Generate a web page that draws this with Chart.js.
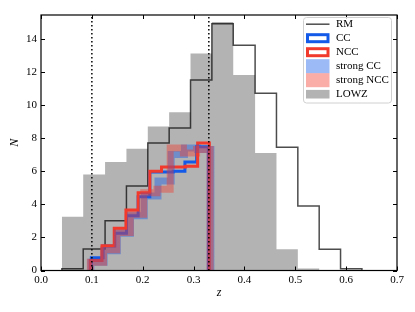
<!DOCTYPE html>
<html>
<head>
<meta charset="utf-8">
<script src="https://cdn.jsdelivr.net/npm/chart.js@4.4.1/dist/chart.umd.min.js"></script>
<style>
  html, body { margin: 0; padding: 0; background: #fff; }
  #wrap { width: 415px; height: 312px; }
</style>
</head>
<body>
<div id="wrap"><canvas id="zHistChart" width="415" height="312"></canvas></div>
<script>
// ==========================
// Data
// ==========================
// shared bins for RM and LOWZ
const zEdges = [0.041, 0.083, 0.126, 0.168, 0.210, 0.252, 0.294, 0.336, 0.378, 0.421, 0.463, 0.505, 0.547, 0.589, 0.631];
const rmCounts = [0.1, 1.3, 3.0, 5.1, 7.7, 8.6, 11.5, 14.9, 13.6, 10.7, 7.45, 3.9, 1.28, 0.1];
const lowzCounts = [3.25, 5.8, 6.55, 7.35, 8.7, 9.55, 13.1, 15.0, 11.8, 7.1, 1.28, 0.12, 0, 0];

// cluster samples, each with its own bins
const ccEdges = [0.099, 0.122, 0.145, 0.168, 0.191, 0.214, 0.237, 0.260, 0.283, 0.306, 0.329];
const ccCounts = [0.77, 1.48, 2.25, 3.3, 4.45, 5.95, 5.95, 6.0, 6.55, 7.48];
const nccEdges = [0.097, 0.120, 0.144, 0.167, 0.191, 0.214, 0.237, 0.261, 0.284, 0.308, 0.331];
const nccCounts = [0.6, 1.5, 2.55, 3.65, 4.7, 6.0, 6.25, 6.25, 6.3, 7.7];
const strongCcEdges = [0.098, 0.124, 0.150, 0.176, 0.203, 0.230, 0.256, 0.282, 0.308, 0.334];
const strongCcCounts = [0.5, 1.2, 2.25, 3.3, 4.5, 5.4, 7.0, 7.4, 7.3];
const strongNccEdges = [0.097, 0.123, 0.149, 0.1755, 0.202, 0.228, 0.254, 0.280, 0.306, 0.3325];
const strongNccCounts = [0.5, 1.25, 2.3, 3.4, 4.7, 4.9, 7.4, 7.1, 7.3];

// vertical cuts
const zCuts = [0.1, 0.33];

// axes
const xTicks = [0, 0.1, 0.2, 0.3, 0.4, 0.5, 0.6, 0.7];
const yTicks = [0, 2, 4, 6, 8, 10, 12, 14];
const xMax = 0.7;
const yMax = 15.43;

// ==========================
// Helpers
// ==========================
function stepPoints(edges, counts) {
  const pts = [{ x: edges[0], y: 0 }];
  counts.forEach((c, i) => {
    pts.push({ x: edges[i], y: c });
    pts.push({ x: edges[i + 1], y: c });
  });
  pts.push({ x: edges[edges.length - 1], y: 0 });
  return pts;
}

const BLUE = "rgb(20, 90, 232)";
const RED = "rgb(242, 58, 44)";
const BLUE_A = "rgba(20, 90, 232, 0.42)";
const RED_A = "rgba(242, 58, 44, 0.42)";
const GREY = "rgba(128, 128, 128, 0.6)";
const RM_COL = "rgba(0, 0, 0, 0.7)";
const SERIF = "'Liberation Serif', 'DejaVu Serif', serif";

const base = { pointRadius: 0, pointHoverRadius: 0, tension: 0, fill: false };

const datasets = [
  { ...base, label: "LOWZ", data: stepPoints(zEdges, lowzCounts), borderWidth: 0,
    borderColor: "transparent", backgroundColor: GREY, fill: "origin", order: 7 },
  { ...base, label: "RM", data: stepPoints(zEdges, rmCounts), borderWidth: 1.5,
    borderColor: RM_COL, order: 6 },
  { ...base, label: "CC", data: stepPoints(ccEdges, ccCounts), borderWidth: 3,
    borderColor: BLUE, order: 5 },
  { ...base, label: "NCC", data: stepPoints(nccEdges, nccCounts), borderWidth: 3,
    borderColor: RED, order: 4 },
  { ...base, label: "strong CC", data: stepPoints(strongCcEdges, strongCcCounts), borderWidth: 7,
    borderColor: BLUE_A, order: 3 },
  { ...base, label: "strong NCC", data: stepPoints(strongNccEdges, strongNccCounts), borderWidth: 7,
    borderColor: RED_A, order: 2 }
];
zCuts.forEach(z => {
  datasets.push({ ...base, label: "cut", data: [{ x: z, y: 0 }, { x: z, y: yMax }],
    borderWidth: 1.5, borderColor: "#000", borderDash: [1.5, 2.5], order: 1 });
});

// ==========================
// Frame, inward ticks, legend
// ==========================
const framePlugin = {
  id: "frame",
  afterDatasetsDraw(chart) {
    const { ctx, chartArea: a, scales: { x, y } } = chart;
    ctx.save();
    ctx.strokeStyle = "#000";
    ctx.lineWidth = 1;
    ctx.beginPath();
    xTicks.forEach(v => {
      const px = Math.round(x.getPixelForValue(v)) + 0.5;
      ctx.moveTo(px, a.bottom); ctx.lineTo(px, a.bottom - 4);
      ctx.moveTo(px, a.top); ctx.lineTo(px, a.top + 4);
    });
    yTicks.forEach(v => {
      const py = Math.round(y.getPixelForValue(v)) + 0.5;
      ctx.moveTo(a.left, py); ctx.lineTo(a.left + 4, py);
      ctx.moveTo(a.right, py); ctx.lineTo(a.right - 4, py);
    });
    ctx.stroke();
    ctx.lineWidth = 1.2;
    ctx.strokeRect(a.left, a.top, a.right - a.left, a.bottom - a.top);
    ctx.restore();
  }
};

const legendItems = [
  { text: "RM", kind: "line", color: RM_COL },
  { text: "CC", kind: "step", color: BLUE },
  { text: "NCC", kind: "step", color: RED },
  { text: "strong CC", kind: "thick", color: BLUE_A },
  { text: "strong NCC", kind: "thick", color: RED_A },
  { text: "LOWZ", kind: "patch", color: GREY }
];

const legendPlugin = {
  id: "boxLegend",
  afterDraw(chart) {
    const { ctx } = chart;
    const bx = 303.5, by = 17.5, bw = 88, bh = 85.5, r = 3;
    ctx.save();
    ctx.beginPath();
    ctx.roundRect(bx, by, bw, bh, r);
    ctx.fillStyle = "rgba(255,255,255,0.8)";
    ctx.fill();
    ctx.strokeStyle = "#d0d0d0";
    ctx.lineWidth = 1;
    ctx.stroke();

    const hx = 306, hw = 23.5;
    legendItems.forEach((it, i) => {
      const cy = 24.2 + i * 14;
      if (it.kind === "line") {
        ctx.strokeStyle = it.color;
        ctx.lineWidth = 1.5;
        ctx.beginPath();
        ctx.moveTo(hx, cy); ctx.lineTo(hx + hw, cy);
        ctx.stroke();
      } else if (it.kind === "step") {
        ctx.strokeStyle = it.color;
        ctx.lineWidth = 3;
        ctx.strokeRect(hx + 1.5, cy - 3.5, hw - 3, 7);
      } else if (it.kind === "thick") {
        ctx.fillStyle = it.color;
        ctx.fillRect(hx, cy - 7, hw, 14);
      } else {
        ctx.fillStyle = it.color;
        ctx.fillRect(hx, cy - 4.3, hw, 8.6);
      }
      ctx.fillStyle = "#000";
      ctx.font = "11px " + SERIF;
      ctx.textBaseline = "middle";
      ctx.textAlign = "left";
      ctx.fillText(it.text, 336, cy);
    });
    ctx.restore();
  }
};

// ==========================
// Chart
// ==========================
new Chart(document.getElementById("zHistChart"), {
  type: "line",
  data: { datasets },
  options: {
    responsive: false,
    animation: false,
    events: [],
    layout: { padding: { top: 15, right: 18, bottom: 0, left: 0 } },
    plugins: { legend: { display: false }, tooltip: { enabled: false } },
    scales: {
      x: {
        type: "linear", min: 0, max: xMax,
        grid: { display: false, drawTicks: false },
        border: { display: false },
        afterBuildTicks: s => { s.ticks = xTicks.map(v => ({ value: v })); },
        afterFit: s => { s.height = 41.5; },
        ticks: {
          color: "#000", padding: 3, maxRotation: 0, autoSkip: false,
          font: { family: SERIF, size: 11 },
          callback: v => Number(v).toFixed(1)
        },
        title: {
          display: true, text: "z", color: "#000",
          font: { family: SERIF, size: 12, style: "italic" },
          padding: { top: 0, bottom: 12 }
        }
      },
      y: {
        type: "linear", min: 0, max: yMax,
        grid: { display: false, drawTicks: false },
        border: { display: false },
        afterBuildTicks: s => { s.ticks = yTicks.map(v => ({ value: v })); },
        afterFit: s => { s.width = 41; },
        ticks: {
          color: "#000", padding: 4,
          font: { family: SERIF, size: 11 },
          callback: v => String(v)
        },
        title: {
          display: true, text: "N", color: "#000",
          font: { family: SERIF, size: 12, style: "italic" },
          padding: { top: 8, bottom: 0 }
        }
      }
    }
  },
  plugins: [framePlugin, legendPlugin]
});
</script>
</body>
</html>
